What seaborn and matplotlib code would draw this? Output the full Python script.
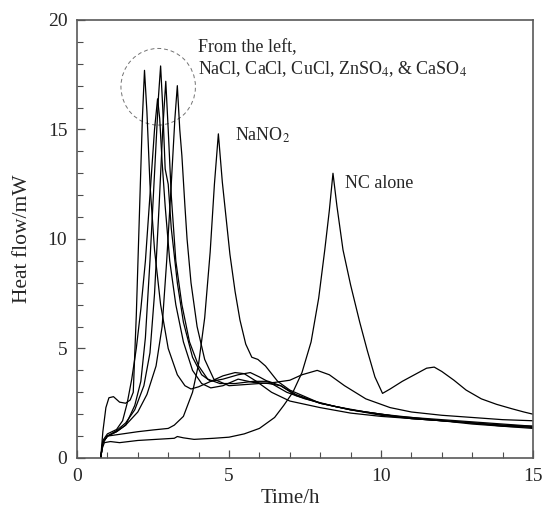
import numpy as np
import pandas as pd
import seaborn as sns
import matplotlib
matplotlib.use("Agg")
import matplotlib.pyplot as plt
from matplotlib.patches import Ellipse
from matplotlib.ticker import MultipleLocator

# heat flow curves (time in h, heat flow in mW)
nacl_t = [0.78, 0.85, 0.95, 1.05, 1.2, 1.4, 1.6, 1.75, 1.85, 1.95, 2.05, 2.15, 2.22, 2.3, 2.4, 2.55, 2.75, 3.0, 3.3, 3.55, 3.75,
          4.0, 4.4, 4.8, 5.2, 5.5, 5.9, 6.4, 7.0, 8.0, 9.0, 10.0, 11.0, 12.0, 13.0, 14.0, 15.0]
nacl_q = [0.0, 1.2, 2.3, 2.75, 2.8, 2.55, 2.5, 2.65, 3.0, 6.5, 11.0, 15.5, 17.7, 15.8, 12.5, 9.5, 7.0, 5.0, 3.8, 3.3, 3.15,
          3.25, 3.5, 3.75, 3.9, 3.85, 3.5, 3.0, 2.6, 2.3, 2.05, 1.9, 1.8, 1.7, 1.6, 1.5, 1.4]

cacl_t = [0.78, 0.85, 1.0, 1.3, 1.5, 1.65, 1.8, 1.95, 2.1, 2.25, 2.4, 2.55, 2.65, 2.72, 2.8, 2.9, 3.05, 3.25, 3.5, 3.8, 4.1,
          4.4, 4.8, 5.3, 5.8, 6.3, 6.7, 7.2, 8.0, 9.0, 10.0, 11.0, 12.0, 13.0, 14.0, 15.0]
cacl_q = [0.0, 0.8, 1.1, 1.3, 1.7, 2.5, 3.6, 5.0, 6.8, 9.0, 12.0, 15.0, 16.4, 15.5, 13.5, 11.5, 9.0, 7.0, 5.3, 4.0, 3.4,
          3.2, 3.3, 3.6, 3.45, 3.4, 3.3, 2.9, 2.5, 2.2, 1.95, 1.8, 1.7, 1.55, 1.45, 1.35]

cucl_t = [0.78, 0.85, 1.0, 1.3, 1.6, 1.9, 2.1, 2.25, 2.4, 2.55, 2.68, 2.75, 2.82, 2.9, 3.0, 3.1, 3.3, 3.5, 3.8, 4.1, 4.4,
          4.8, 5.3, 5.7, 6.0, 6.4, 6.9, 7.5, 8.5, 9.5, 10.5, 11.5, 12.5, 13.5, 14.5, 15.0]
cucl_q = [0.0, 0.7, 1.0, 1.2, 1.5, 2.4, 3.5, 5.5, 9.0, 13.0, 16.5, 17.9, 16.0, 13.2, 12.5, 10.5, 8.0, 6.2, 4.6, 3.8, 3.5,
          3.6, 3.8, 3.9, 3.7, 3.4, 3.0, 2.7, 2.35, 2.1, 1.9, 1.8, 1.7, 1.6, 1.5, 1.45]

znso4_t = [0.78, 0.85, 1.0, 1.3, 1.6, 1.9, 2.2, 2.4, 2.55, 2.7, 2.82, 2.92, 3.0, 3.1, 3.25, 3.45, 3.7, 4.0, 4.3, 4.7, 5.2,
           5.8, 6.3, 6.7, 7.2, 8.0, 9.0, 10.0, 11.0, 12.0, 13.0, 14.0, 15.0]
znso4_q = [0.0, 0.7, 1.0, 1.25, 1.6, 2.2, 3.3, 4.8, 7.5, 11.5, 15.0, 17.2, 15.0, 12.0, 9.0, 7.0, 5.3, 4.2, 3.6, 3.4, 3.4,
           3.5, 3.5, 3.3, 2.85, 2.5, 2.2, 2.0, 1.8, 1.7, 1.6, 1.45, 1.4]

caso4_t = [0.78, 0.85, 1.0, 1.3, 1.6, 2.0, 2.3, 2.6, 2.8, 2.95, 3.1, 3.22, 3.3, 3.38, 3.45, 3.55, 3.62, 3.75, 3.95, 4.2, 4.5,
           5.0, 5.5, 6.0, 6.5, 7.0, 7.4, 7.9, 8.3, 8.8, 9.5, 10.3, 11.0, 12.0, 13.0, 14.0, 15.0]
caso4_q = [0.0, 0.7, 1.0, 1.2, 1.5, 2.1, 2.9, 4.2, 6.0, 9.0, 12.5, 15.5, 17.0, 15.0, 13.8, 11.5, 10.0, 8.0, 6.0, 4.5, 3.6,
           3.3, 3.35, 3.4, 3.45, 3.55, 3.8, 4.0, 3.8, 3.3, 2.7, 2.3, 2.1, 1.95, 1.85, 1.75, 1.7]

nano2_t = [0.78, 0.85, 1.0, 1.5, 2.0, 2.5, 3.0, 3.2, 3.5, 3.8, 4.0, 4.2, 4.38, 4.52, 4.65, 4.78, 5.03, 5.2, 5.36, 5.55, 5.75,
           5.95, 6.2, 6.6, 7.0, 8.0, 9.0, 10.0, 11.0, 12.0, 13.0, 14.0, 15.0]
nano2_q = [0.0, 0.7, 1.0, 1.1, 1.2, 1.28, 1.35, 1.5, 1.9, 3.0, 4.3, 6.4, 9.4, 12.5, 14.8, 12.6, 9.3, 7.6, 6.3, 5.2, 4.6,
           4.5, 4.2, 3.5, 3.1, 2.5, 2.2, 2.0, 1.85, 1.7, 1.6, 1.5, 1.45]

nc_t = [0.78, 0.82, 0.9, 1.1, 1.4, 2.0, 2.6, 3.2, 3.3, 3.5, 3.85, 4.5, 5.0, 5.5, 6.0, 6.5, 6.8, 7.1, 7.4, 7.7, 7.95, 8.15,
        8.3, 8.42, 8.55, 8.75, 9.0, 9.3, 9.55, 9.8, 10.05, 10.3, 10.7, 11.1, 11.5, 11.75, 12.0, 12.4, 12.8, 13.3, 13.8,
        14.3, 14.7, 15.0]
nc_q = [0.0, 0.4, 0.7, 0.75, 0.7, 0.8, 0.85, 0.9, 0.98, 0.92, 0.85, 0.9, 0.95, 1.1, 1.35, 1.85, 2.4, 3.0, 3.9, 5.3, 7.3,
        9.5, 11.3, 13.0, 11.5, 9.5, 7.9, 6.2, 4.9, 3.7, 2.95, 3.15, 3.5, 3.8, 4.1, 4.15, 3.95, 3.55, 3.1, 2.7, 2.45,
        2.25, 2.1, 2.0]

samples = ["NaCl", "CaCl", "CuCl", "ZnSO4", "CaSO4", "NaNO2", "NC alone"]
times = [nacl_t, cacl_t, cucl_t, znso4_t, caso4_t, nano2_t, nc_t]
flows = [nacl_q, cacl_q, cucl_q, znso4_q, caso4_q, nano2_q, nc_q]

df = pd.concat([pd.DataFrame({"t": t, "q": q, "sample": s}) for s, t, q in zip(samples, times, flows)],
               ignore_index=True)

sns.set_theme(style="ticks")
plt.rcParams["font.family"] = ["Liberation Serif", "DejaVu Serif"]
plt.rcParams["mathtext.fontset"] = "stix"

fig = plt.figure(figsize=(5.45, 5.12), dpi=100)
ax = fig.add_axes([0.1413, 0.1055, 0.8367, 0.8555])

sns.lineplot(data=df, x="t", y="q", units="sample", estimator=None, sort=False,
             color="black", lw=0.9, ax=ax)

# dashed circle round the five salt peaks (circle in pixels -> ellipse in data units)
ax.add_patch(Ellipse((2.67, 16.95), 2.45, 3.5, fill=False, ls=(0, (4, 3)), lw=0.7, color="0.45"))

ax.text(3.98, 18.75, "From the left,", fontsize=13, va="center", ha="left")
ax.text(3.98, 17.75, "NaCl, CaCl, CuCl, ZnSO$_4$, & CaSO$_4$", fontsize=13, va="center", ha="left")
ax.text(5.2, 14.75, "NaNO$_2$", fontsize=13, va="center", ha="left")
ax.text(8.82, 12.55, "NC alone", fontsize=13, va="center", ha="left")

ax.set_xlim(0, 15)
ax.set_ylim(0, 20)
ax.xaxis.set_major_locator(MultipleLocator(5))
ax.xaxis.set_minor_locator(MultipleLocator(1))
ax.yaxis.set_major_locator(MultipleLocator(5))
ax.yaxis.set_minor_locator(MultipleLocator(1))
ax.tick_params(which="both", direction="in", labelsize=14, color="0.3")
ax.tick_params(which="major", length=6, width=0.9, pad=7)
ax.tick_params(which="minor", length=4, width=0.8)
for sp in ax.spines.values():
    sp.set_visible(True)
    sp.set_color("0.35")
    sp.set_linewidth(1.2)

ax.set_xlabel("Time/h", fontsize=15)
ax.set_ylabel("Heat flow/mW", fontsize=15.5)
ax.xaxis.set_label_coords(0.469, -0.07)
ax.yaxis.set_label_coords(-0.098, 0.5)

fig.savefig("out.png", dpi=100)
